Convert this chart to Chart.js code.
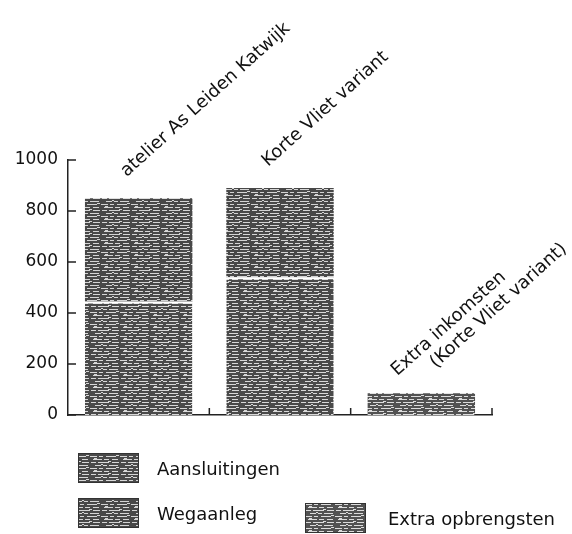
<!DOCTYPE html>
<html>
<head>
<meta charset="utf-8">
<script src="https://cdn.jsdelivr.net/npm/chart.js@4"></script>
<style>
  html, body { margin: 0; padding: 0; background: #fff; }
  #wrap { width: 572px; height: 534px; position: relative; }
</style>
</head>
<body>
<div id="wrap"><canvas id="costs-chart"></canvas></div>
<script>
// data
const categories = [
    ['atelier As Leiden Katwijk'],
    ['Korte Vliet variant'],
    ['Extra inkomsten', '(Korte Vliet variant)']
];
const aansluitingen = [445, 540, 0];
const wegaanleg = [405, 350, 0];
const extraOpbrengsten = [0, 0, 85];
const yTicks = [0, 200, 400, 600, 800, 1000];

const FONT = '"DejaVu Sans", "Noto Sans", sans-serif';

/**
 * scanned grey texture for the bars
 */
function makeTexture(bg, ink, shift) {
    const c = document.createElement('canvas');
    c.width = 30;
    c.height = 12;
    const g = c.getContext('2d');
    g.fillStyle = bg;
    g.fillRect(0, 0, c.width, c.height);
    g.fillStyle = ink;
    const dashes = [[0, 0, 7], [9, 0, 4], [16, 0, 10], [3, 3, 9], [14, 3, 5], [22, 3, 6],
                    [1, 6, 5], [8, 6, 11], [22, 6, 7], [5, 9, 6], [13, 9, 4], [19, 9, 9],
                    [4, 2, 3], [18, 5, 3], [11, 8, 2], [26, 11, 3]];
    for (const [x, y, w] of dashes) {
        g.fillRect((x + shift) % 30, y, w, 1);
        if ((x + shift) % 30 + w > 30) g.fillRect(0, y, (x + shift) % 30 + w - 30, 1);
    }
    return g.createPattern(c, 'repeat');
}

// category labels drawn rotated above each stack
const stackLabels = {
    id: 'stackLabels',
    afterDatasetsDraw(chart) {
        const ctx = chart.ctx;
        const x = chart.scales.x, y = chart.scales.y;
        ctx.save();
        ctx.font = '18px ' + FONT;
        ctx.fillStyle = '#111';
        ctx.textBaseline = 'alphabetic';
        ctx.textAlign = 'left';
        categories.forEach((lines, i) => {
            const total = aansluitingen[i] + wegaanleg[i] + extraOpbrengsten[i];
            const multi = lines.length > 1;
            const px = x.getPixelForValue(i) + (multi ? -24 : -12);
            const py = y.getPixelForValue(total) - (multi ? 17 : 21);
            ctx.save();
            ctx.translate(px, py);
            ctx.rotate(-Math.PI * 42 / 180);
            lines.forEach((line, j) => ctx.fillText(line, j * 34, j * 20));
            ctx.restore();
        });
        ctx.restore();
    }
};

// short tick marks pointing into the plot, as in the original
const inwardTicks = {
    id: 'inwardTicks',
    afterDraw(chart) {
        const ctx = chart.ctx;
        const x = chart.scales.x, y = chart.scales.y;
        ctx.save();
        ctx.strokeStyle = '#222';
        ctx.lineWidth = 1.5;
        ctx.beginPath();
        yTicks.forEach(v => {
            const py = y.getPixelForValue(v);
            ctx.moveTo(x.left, py);
            ctx.lineTo(x.left + 8, py);
        });
        for (let i = 0; i < categories.length; i++) {
            const px = x.getPixelForValue(i + 0.5);
            ctx.moveTo(px, y.bottom);
            ctx.lineTo(px, y.bottom - 7);
        }
        ctx.stroke();
        ctx.restore();
    }
};

// two-row legend as in the report
const boxLegend = {
    id: 'boxLegend',
    afterDraw(chart) {
        const ctx = chart.ctx;
        const slots = [[78, 453, 157], [78, 498, 157], [305, 503, 388]];
        ctx.save();
        ctx.font = '18px ' + FONT;
        ctx.textBaseline = 'middle';
        ctx.textAlign = 'left';
        chart.data.datasets.forEach((ds, i) => {
            const [lx, ly, tx] = slots[i];
            ctx.fillStyle = ds.backgroundColor;
            ctx.fillRect(lx, ly, 61, 30);
            ctx.strokeStyle = '#333';
            ctx.lineWidth = 1;
            ctx.strokeRect(lx + 0.5, ly + 0.5, 60, 29);
            ctx.fillStyle = '#111';
            ctx.fillText(ds.label, tx, ly + 17);
        });
        ctx.restore();
    }
};

const costsChart = initCostsChart();

function initCostsChart() {
    const ctx = document.getElementById('costs-chart');

    return new Chart(ctx, {
        type: 'bar',
        data: {
            labels: categories.map(l => l.join(' ')),
            datasets: [{
                label: 'Aansluitingen',
                data: aansluitingen,
                backgroundColor: makeTexture('#4a4a4a', '#d8d8d8', 0),
                borderColor: '#fff',
                borderWidth: {top: 2, left: 0, right: 0, bottom: 0}
            }, {
                label: 'Wegaanleg',
                data: wegaanleg,
                backgroundColor: makeTexture('#484848', '#d4d4d4', 11),
                borderWidth: 0
            }, {
                label: 'Extra opbrengsten',
                data: extraOpbrengsten,
                backgroundColor: makeTexture('#525252', '#dcdcdc', 5),
                borderWidth: 0
            }]
        },
        options: {
            animation: false,
            responsive: true,
            maintainAspectRatio: false,
            layout: {
                padding: {top: 160, right: 80, bottom: 111, left: 0}
            },
            plugins: {
                legend: {display: false},
                tooltip: {enabled: false}
            },
            datasets: {
                bar: {
                    categoryPercentage: 1,
                    barPercentage: 0.76,
                    borderSkipped: false
                }
            },
            scales: {
                x: {
                    stacked: true,
                    offset: true,
                    grid: {display: false},
                    border: {color: '#222', width: 1.5},
                    ticks: {display: false},
                    afterFit: s => { s.height = 8; }
                },
                y: {
                    stacked: true,
                    min: 0,
                    max: 1000,
                    afterBuildTicks: s => { s.ticks = yTicks.map(v => ({value: v})); },
                    grid: {display: false},
                    border: {color: '#222', width: 1.5},
                    ticks: {
                        padding: 2,
                        color: '#111',
                        font: {family: FONT, size: 17},
                        callback: v => String(v)
                    },
                    afterFit: s => { s.width = 68; }
                }
            }
        },
        plugins: [stackLabels, inwardTicks, boxLegend]
    });
}
</script>
</body>
</html>
